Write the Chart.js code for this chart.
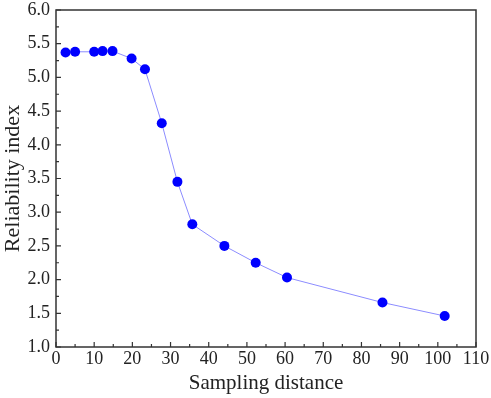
<!DOCTYPE html>
<html>
<head>
<meta charset="utf-8">
<script src="https://cdn.jsdelivr.net/npm/chart.js@4"></script>
<style>
  html, body { margin: 0; padding: 0; background: #fff; }
  #wrap { width: 491px; height: 398px; }
</style>
</head>
<body>
<div id="wrap"><canvas id="myChart"></canvas></div>
<script>
// data
const samplingDistance = [2.5, 5.0, 10.0, 12.2, 14.8, 19.8, 23.3, 27.7, 31.8, 35.7, 44.1, 52.3, 60.5, 85.5, 101.8];
const reliabilityIndex = [5.37, 5.38, 5.38, 5.39, 5.39, 5.28, 5.12, 4.32, 3.45, 2.82, 2.50, 2.25, 2.03, 1.66, 1.46];

const xTicks = [0, 10, 20, 30, 40, 50, 60, 70, 80, 90, 100, 110];
const yTicks = [1.0, 1.5, 2.0, 2.5, 3.0, 3.5, 4.0, 4.5, 5.0, 5.5, 6.0];

const fontFamily = "'Liberation Serif', 'DejaVu Serif', serif";
const inkColor = '#222';

// frame + inward ticks, like the origin-style plot
const frameTicks = {
    id: 'frameTicks',
    afterDraw(chart) {
        const ctx = chart.ctx;
        const a = chart.chartArea;
        const xs = chart.scales.x;
        const ys = chart.scales.y;
        ctx.save();
        ctx.strokeStyle = '#333';
        ctx.lineWidth = 1.5;
        ctx.strokeRect(a.left, a.top, a.right - a.left, a.bottom - a.top);

        ctx.lineWidth = 1.2;
        ctx.beginPath();
        for (let i = 0; i < xTicks.length; i++) {
            const px = xs.getPixelForValue(xTicks[i]);
            ctx.moveTo(px, a.bottom);
            ctx.lineTo(px, a.bottom - 5);
            if (i < xTicks.length - 1) {
                const mx = xs.getPixelForValue((xTicks[i] + xTicks[i + 1]) / 2);
                ctx.moveTo(mx, a.bottom);
                ctx.lineTo(mx, a.bottom - 3);
            }
        }
        for (let i = 0; i < yTicks.length; i++) {
            const py = ys.getPixelForValue(yTicks[i]);
            ctx.moveTo(a.left, py);
            ctx.lineTo(a.left + 5, py);
            if (i < yTicks.length - 1) {
                const my = ys.getPixelForValue((yTicks[i] + yTicks[i + 1]) / 2);
                ctx.moveTo(a.left, my);
                ctx.lineTo(a.left + 3, my);
            }
        }
        ctx.stroke();
        ctx.restore();
    }
};

const chartData = {
    datasets: [{
        label: 'Reliability index',
        data: samplingDistance.map((x, i) => ({ x: x, y: reliabilityIndex[i] })),
        showLine: true,
        borderColor: '#8c8cff',
        borderWidth: 1,
        backgroundColor: '#0000ff',
        pointBackgroundColor: '#0000ff',
        pointBorderColor: '#0000ff',
        pointRadius: 5,
        pointBorderWidth: 0,
        tension: 0
    }]
};

const chartOptions = {
    responsive: true,
    maintainAspectRatio: false,
    animation: false,
    layout: { padding: 0 },
    plugins: {
        legend: { display: false },
        tooltip: { enabled: false }
    },
    scales: {
        x: {
            type: 'linear',
            min: 0,
            max: 110,
            afterBuildTicks: (scale) => { scale.ticks = xTicks.map(v => ({ value: v })); },
            afterFit: (scale) => {
                scale.height = 51;
                scale.paddingLeft = 0;
                scale.paddingRight = 15;
            },
            grid: { display: false, drawTicks: false },
            border: { display: false },
            ticks: {
                padding: 1,
                color: inkColor,
                font: { family: fontFamily, size: 18 },
                maxRotation: 0,
                callback: (v) => v
            },
            title: {
                display: true,
                text: 'Sampling distance',
                color: inkColor,
                font: { family: fontFamily, size: 21 },
                padding: { top: 0, bottom: 2 }
            }
        },
        y: {
            type: 'linear',
            min: 1,
            max: 6,
            afterBuildTicks: (scale) => { scale.ticks = yTicks.map(v => ({ value: v })); },
            afterFit: (scale) => {
                scale.width = 56;
                scale.paddingTop = 10;
                scale.paddingBottom = 0;
            },
            grid: { display: false, drawTicks: false },
            border: { display: false },
            ticks: {
                padding: 6,
                color: inkColor,
                font: { family: fontFamily, size: 18 },
                callback: (v) => Number(v).toFixed(1)
            },
            title: {
                display: true,
                text: 'Reliability index',
                color: inkColor,
                font: { family: fontFamily, size: 22 },
                padding: { top: 0, bottom: 0 }
            }
        }
    }
};

var myChart = new Chart(document.getElementById('myChart'), {
    type: 'scatter',
    data: chartData,
    options: chartOptions,
    plugins: [frameTicks]
});
</script>
</body>
</html>
